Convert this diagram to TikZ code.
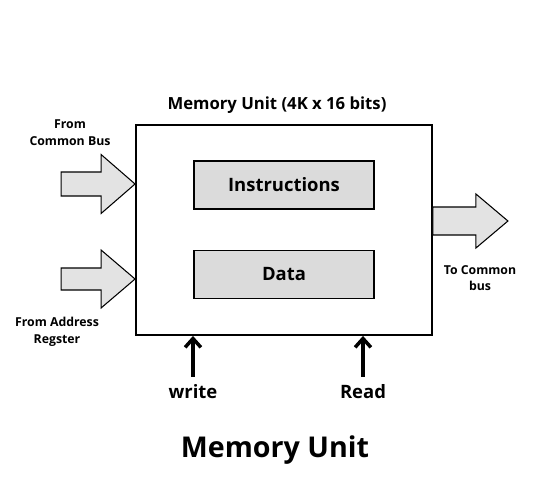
\documentclass[tikz,border=0pt]{standalone}
\usepackage{fontspec}
\setmainfont{Open Sans}
\usetikzlibrary{arrows.meta, positioning}

\begin{document}
\begin{tikzpicture}[
  x=0.02cm, y=-0.02cm,
  membox/.style   = {draw, line width=1.1pt, minimum width=5.92cm, minimum height=4.2cm},
  regbox/.style   = {draw, line width=0.8pt, fill=gray!28, minimum width=3.6cm,
                     minimum height=0.96cm, font=\fontsize{10.5}{12}\selectfont\bfseries},
  buslabel/.style = {align=center, font=\fontsize{7}{9.5}\selectfont\bfseries},
  ctrllabel/.style= {font=\fontsize{10.5}{12}\selectfont\bfseries},
  ctrl/.style     = {-{Straight Barb[length=5pt, width=9pt, line width=2pt]}, line width=2.2pt},
  busarrow/.style = {draw, line width=0.6pt, fill=gray!22}
]
\useasboundingbox (0,0) rectangle (550,500);

% ── Nodes ─────────────────────────────────────────────────────────────────────
\node[membox] (mem) at (284,230) {};
\node[font=\fontsize{9.5}{12}\selectfont\bfseries, anchor=base] (title) at (277,110) {Memory Unit (4K x 16 bits)};
\node[regbox] (instr) at (284,185) {Instructions};
\node[regbox] (data)  at (284,274.5) {Data};

\node[buslabel] (fromcb) at (70,133) {From\\Common Bus};
\node[buslabel] (fromar) at (57,332) {From Address\\Regster};
\node[buslabel] (tocb)   at (480,278) {To Common\\bus};

\node[ctrllabel] (write) at (193,392) {write};
\node[ctrllabel] (read)  at (363,392) {Read};

\node[font=\fontsize{16.3}{20}\selectfont\bfseries] (caption) at (275,450) {Memory Unit};

% ── Bus arrows ────────────────────────────────────────────────────────────────
\path[busarrow, shift={(mem.west |- 0,184)}]
  (-74,-12) -- (-34,-12) -- (-34,-29.5) -- (0,0) -- (-34,29.5) -- (-34,12) -- (-74,12) -- cycle;
\path[busarrow, shift={(mem.west |- 0,279)}]
  (-74,-11) -- (-34,-11) -- (-34,-29) -- (0,0) -- (-34,29) -- (-34,11) -- (-74,11) -- cycle;
\path[busarrow, shift={(mem.east |- 0,221)}]
  (0,-14) -- (43,-14) -- (43,-27) -- (75,0) -- (43,27) -- (43,14) -- (0,14) -- cycle;

% ── Control arrows ────────────────────────────────────────────────────────────
\foreach \s in {write, read}
  \draw[ctrl] (\s.north) ++(0,-2) -- (\s.north |- mem.south);

\end{tikzpicture}
\end{document}
